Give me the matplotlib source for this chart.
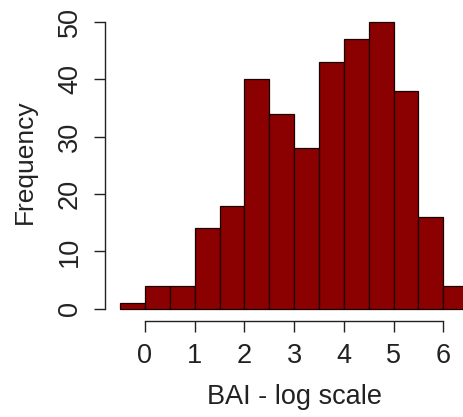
import matplotlib
matplotlib.use("Agg")
import matplotlib.pyplot as plt
import numpy as np

plt.rcParams['font.family'] = ['Liberation Sans', 'DejaVu Sans']

bin_edges = [-0.5, 0.0, 0.5, 1.0, 1.5, 2.0, 2.5, 3.0, 3.5, 4.0, 4.5, 5.0, 5.5, 6.0, 6.5]
counts = [1, 4, 4, 14, 18, 40, 34, 28, 43, 47, 50, 38, 16, 4]
x_ticks = [0, 1, 2, 3, 4, 5, 6]
y_ticks = [0, 10, 20, 30, 40, 50]
x_label = "BAI - log scale"
y_label = "Frequency"

W, H = 464, 417
fig = plt.figure(figsize=(W / 100, H / 100), dpi=100)
ax = fig.add_axes([0, 0, 1, 1])

px_x0, px_per_x = 145.0, 49.72
px_y0, px_per_y = 308.8, 5.737
ax.set_xlim(-px_x0 / px_per_x, (W - px_x0) / px_per_x)
ax.set_ylim(-(H - px_y0) / px_per_y, px_y0 / px_per_y)

centers = [(bin_edges[i] + bin_edges[i + 1]) / 2 for i in range(len(counts))]
ax.hist(centers, bins=bin_edges, weights=counts, color='#8B0000',
        edgecolor='#1a0000', linewidth=0.9)

for s in ['top', 'right']:
    ax.spines[s].set_visible(False)
ax.spines['left'].set_position(('data', (105.3 - px_x0) / px_per_x))
ax.spines['left'].set_bounds(0, 50)
ax.spines['bottom'].set_position(('data', -(320.5 - px_y0) / px_per_y))
ax.spines['bottom'].set_bounds(0, 6)
for s in ['left', 'bottom']:
    ax.spines[s].set_linewidth(1.0)
    ax.spines[s].set_color('#222222')

ax.set_xticks(x_ticks)
ax.set_yticks(y_ticks)
ax.set_xticklabels([str(t) for t in x_ticks])
ax.set_yticklabels([str(t) for t in y_ticks], rotation=90, va='center')
ax.tick_params(axis='both', direction='out', length=8, width=1.0,
               color='#222222', labelsize=19.5, labelcolor='#222222')
ax.tick_params(axis='x', pad=8)
ax.tick_params(axis='y', pad=8)

ax.set_xlabel(x_label, fontsize=19.5, color='#222222')
ax.xaxis.set_label_coords((px_x0 + 3 * px_per_x) / W, 1 - 404.5 / H)
ax.xaxis.label.set_va('baseline')
ax.set_ylabel(y_label, fontsize=19, color='#222222')
ax.yaxis.set_label_coords(25 / W, 1 - 162 / H)
ax.yaxis.label.set_va('center')

fig.savefig("out.png", dpi=100)
